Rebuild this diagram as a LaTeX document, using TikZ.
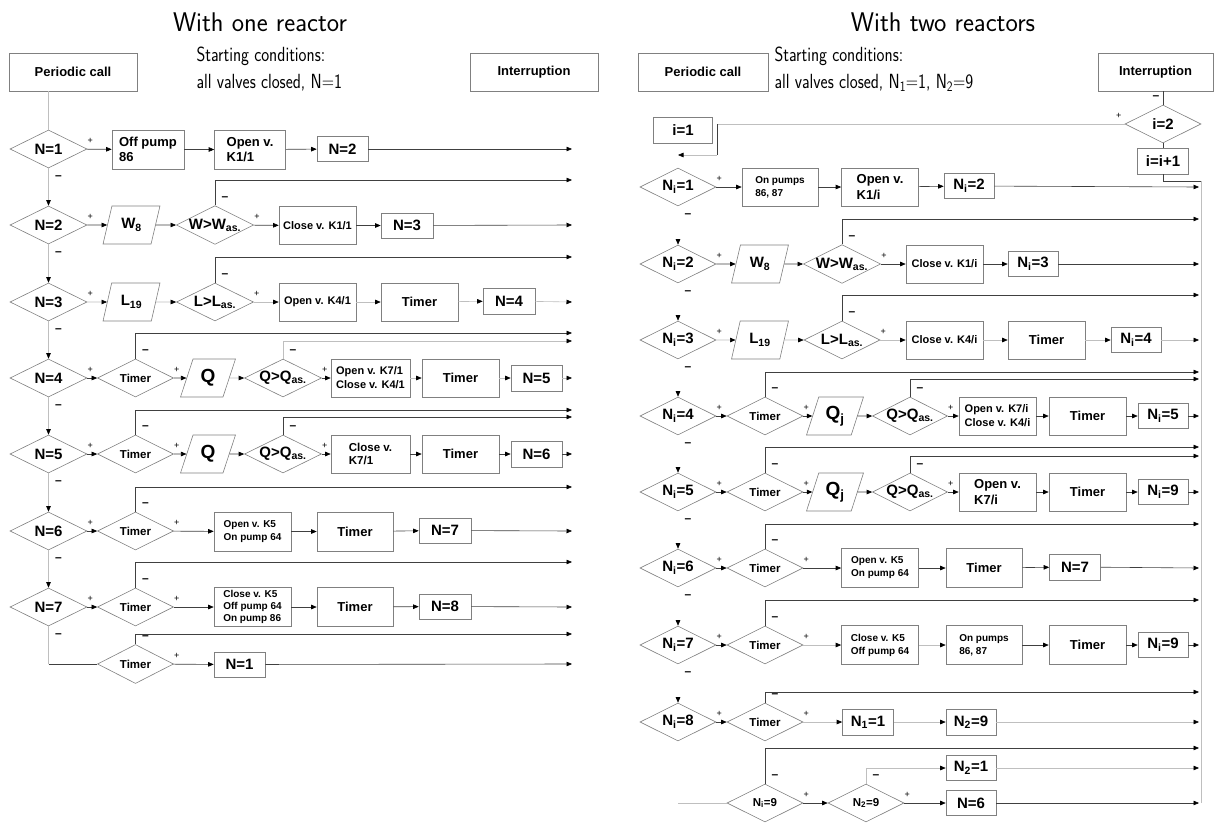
\documentclass[tikz,border=0pt]{standalone}
\usepackage{fontspec}
\setmainfont{Liberation Sans}
\usepackage{graphicx}
\usetikzlibrary{shapes.geometric,arrows.meta}
\newcommand\fA{\fontsize{15}{17}\selectfont\bfseries}
\newcommand\fB{\fontsize{13}{15.5}\selectfont\bfseries}
\newcommand\fC{\fontsize{11.5}{13}\selectfont\bfseries}
\newcommand\fD{\fontsize{11}{14}\selectfont\bfseries}
\newcommand\fE{\fontsize{10}{13}\selectfont\bfseries}
\newcommand\fF{\fontsize{10}{12}\selectfont\bfseries}
\newcommand\fQ{\fontsize{19}{21}\selectfont\bfseries}
\newcommand\fT{\fontsize{27}{29}\selectfont\sffamily}
\newcommand\fS{\fontsize{20.5}{22}\selectfont\sffamily}
\newcommand\sbs[1]{\textsubscript{#1}}
\newcommand\pls[2]{\node[pl] (#1) at ([xshift=3pt,yshift=8pt]#2.east) {+};}
\newcommand\mnb[2]{\node[mi] (#1) at ([xshift=10pt,yshift=-9pt]#2.south) {--};}
\newcommand\mnt[2]{\node[mi] (#1) at ([xshift=10pt,yshift=7pt]#2.north) {--};}
\tikzset{
  gl/.style={draw=black!50, line width=0.6pt},
  rbox/.style 2 args={rectangle, gl, fill=white, align=left, inner sep=1pt, minimum width=#1, minimum height=#2},
  dia/.style 2 args={diamond, gl, fill=white, aspect=2, inner sep=0pt, minimum width=#1, minimum height=#2},
  para/.style 2 args={trapezium, trapezium left angle=70, trapezium right angle=110, trapezium stretches=true, gl, fill=white, inner sep=0pt, minimum width=#1, minimum height=#2},
  ln/.style={draw=black!75, line width=0.6pt},
  fl/.style={draw=black!25, line width=0.6pt},
  inv/.style={draw=white, line width=0.6pt},
  ar/.style={-{Triangle[length=5.5pt,width=4.5pt,color=black]}},
  pl/.style={font=\fontsize{9}{9}\selectfont, inner sep=0pt},
  mi/.style={font=\fontsize{12}{12}\selectfont\bfseries, inner sep=0pt},
}
\begin{document}
\begin{tikzpicture}[x=1pt,y=-1pt]
\useasboundingbox (0,0) rectangle (1224,825);

%================ LEFT PANEL ================
\node[font=\fT] (aT) at (260,22) {\scalebox{0.97}[1]{With one reactor}};
\node[font=\fS, anchor=west] (aS1) at (193,56) {\scalebox{0.82}[1]{Starting conditions:}};
\node[font=\fS, anchor=west] (aS2) at (193,83) {\scalebox{0.82}[1]{all valves closed, N=1}};
\node[rbox={128}{38}, font=\fB] (aPC) at (73,72) {Periodic call};
\node[rbox={128}{38}, font=\fB] (aIR) at (534,72) {Interruption};

% row 1
\node[dia={77}{38}, font=\fA] (a1) at (48.5,149) {N=1};
\node[rbox={72}{39}, font=\fB] (a1b) at (148,149.5) {Off pump\\86};
\node[rbox={71}{39}, font=\fB] (a1c) at (250,149.5) {Open v.\\K1/1};
\node[rbox={51}{25}, font=\fA] (a1d) at (342.5,149) {N=2};
\coordinate (a1e) at (572,149);
\draw[fl] (aPC.south -| a1.north) -- (a1.north);
\draw[ln,ar] (a1) -- (a1b);
\draw[ln,ar] (a1b) -- (a1c);
\draw[ln,ar] (a1c) -- (a1d);
\draw[ln,ar] (a1d) -- (a1e);
\pls{a1p}{a1}
\mnb{a1m}{a1}

% row 2
\node[dia={77}{38}, font=\fA] (a2) at (48.5,225) {N=2};
\node[para={57}{38}, font=\fA] (a2b) at (131.5,225) {W\sbs{8}};
\node[dia={77}{38}, font=\fA] (a2c) at (215,225) {W>W\sbs{as.}};
\node[rbox={77}{38}, font=\fD] (a2d) at (317.5,225.5) {Close v. K1/1};
\node[rbox={52}{25}, font=\fA] (a2e) at (407,225.5) {N=3};
\coordinate (a2f) at (572,225);
\coordinate (a2g) at (572,180);
\draw[ln,ar] (a2) -- (a2b);
\draw[ln,ar] (a2b) -- (a2c);
\draw[ln,ar] (a2c) -- (a2d);
\draw[ln,ar] (a2d) -- (a2e);
\draw[ln,ar] (a2e) -- (a2f);
\draw[ln,ar] (a2c.north) |- (a2g);
\pls{a2p}{a2}
\pls{a2cp}{a2c}
\mnb{a2m}{a2}
\mnt{a2cm}{a2c}

% row 3
\node[dia={77}{38}, font=\fA] (a3) at (48.5,302) {N=3};
\node[para={57}{38}, font=\fA] (a3b) at (131.5,302) {L\sbs{19}};
\node[dia={77}{38}, font=\fA] (a3c) at (215,302) {L>L\sbs{as.}};
\node[rbox={77}{38}, font=\fD] (a3d) at (317.5,302) {Open v. K4/1};
\node[rbox={77}{38}, font=\fB] (a3e) at (419.5,302) {Timer};
\node[rbox={52}{26}, font=\fA] (a3f) at (509,301) {N=4};
\coordinate (a3g) at (572,302);
\coordinate (a3h) at (572,257);
\draw[fl,ar] (a3) -- (a3b);
\draw[fl,ar] (a3b) -- (a3c);
\draw[fl,ar] (a3c) -- (a3d);
\draw[fl,ar] (a3d) -- (a3e);
\draw[fl,ar] (a3e) -- (a3f);
\draw[fl,ar] (a3f) -- (a3g);
\draw[ln,ar] (a3c.north) |- (a3h);
\pls{a3p}{a3}
\pls{a3cp}{a3c}
\mnb{a3m}{a3}
\mnt{a3cm}{a3c}

% row 4
\node[dia={77}{38}, font=\fA] (a4) at (48.5,378) {N=4};
\node[dia={76}{38}, font=\fC] (a4b) at (135.5,378) {Timer};
\node[para={55}{38}, font=\fQ] (a4c) at (208,378) {Q};
\node[dia={77}{38}, font=\fA] (a4d) at (283,378) {Q>Q\sbs{as.}};
\node[rbox={79}{38}, font=\fD] (a4e) at (370.5,378) {Open v. K7/1\\Close v. K4/1};
\node[rbox={77}{38}, font=\fB] (a4f) at (460.5,378) {Timer};
\node[rbox={51}{26}, font=\fA] (a4g) at (536.5,378) {N=5};
\coordinate (a4h) at (572,378);
\coordinate (a4i) at (572,333);
\coordinate (a4j) at (572,341);
\draw[ln,ar] (a4) -- (a4b);
\draw[ln,ar] (a4b) -- (a4c);
\draw[fl,ar] (a4c) -- (a4d);
\draw[ln,ar] (a4d) -- (a4e);
\draw[fl,ar] (a4e) -- (a4f);
\draw[fl,ar] (a4f) -- (a4g);
\draw[fl,ar] (a4g) -- (a4h);
\draw[ln,ar] (a4b.north) |- (a4i);
\draw[fl,ar] (a4d.north) |- (a4j);
\pls{a4p}{a4}
\pls{a4bp}{a4b}
\pls{a4dp}{a4d}
\mnb{a4m}{a4}
\mnt{a4bm}{a4b}
\mnt{a4dm}{a4d}

% row 5
\node[dia={77}{38}, font=\fA] (a5) at (48.5,454) {N=5};
\node[dia={76}{38}, font=\fC] (a5b) at (135.5,454) {Timer};
\node[para={55}{38}, font=\fQ] (a5c) at (208,454) {Q};
\node[dia={77}{38}, font=\fA] (a5d) at (283,454) {Q>Q\sbs{as.}};
\node[rbox={79}{38}, font=\fC] (a5e) at (370.5,454) {Close v.\\K7/1};
\node[rbox={77}{38}, font=\fB] (a5f) at (460.5,454) {Timer};
\node[rbox={51}{26}, font=\fA] (a5g) at (536.5,454) {N=6};
\coordinate (a5h) at (572,454);
\coordinate (a5i) at (572,410);
\coordinate (a5j) at (572,417);
\draw[ln,ar] (a5) -- (a5b);
\draw[ln,ar] (a5b) -- (a5c);
\draw[ln,ar] (a5c) -- (a5d);
\draw[ln,ar] (a5d) -- (a5e);
\draw[ln,ar] (a5e) -- (a5f);
\draw[ln,ar] (a5f) -- (a5g);
\draw[ln,ar] (a5g) -- (a5h);
\draw[ln,ar] (a5b.north) |- (a5i);
\draw[ln,ar] (a5d.north) |- (a5j);
\pls{a5p}{a5}
\pls{a5bp}{a5b}
\pls{a5dp}{a5d}
\mnb{a5m}{a5}
\mnt{a5bm}{a5b}
\mnt{a5dm}{a5d}

% row 6
\node[dia={77}{38}, font=\fA] (a6) at (48.5,531) {N=6};
\node[dia={76}{38}, font=\fC] (a6b) at (135.5,531) {Timer};
\node[rbox={77}{39}, font=\fE] (a6c) at (252.5,531.5) {Open v. K5\\On pump 64};
\node[rbox={76}{39}, font=\fB] (a6d) at (355,531.5) {Timer};
\node[rbox={52}{25}, font=\fA] (a6e) at (445,530.5) {N=7};
\coordinate (a6f) at (572,531);
\coordinate (a6g) at (572,487);
\draw[ln,ar] (a6) -- (a6b);
\draw[ln,ar] (a6b) -- (a6c);
\draw[ln,ar] (a6c) -- (a6d);
\draw[ln,ar] (a6d) -- (a6e);
\draw[ln,ar] (a6e) -- (a6f);
\draw[ln,ar] (a6b.north) |- (a6g);
\pls{a6p}{a6}
\pls{a6bp}{a6b}
\mnb{a6m}{a6}
\mnt{a6bm}{a6b}

% row 7
\node[dia={77}{38}, font=\fA] (a7) at (48.5,607) {N=7};
\node[dia={76}{38}, font=\fC] (a7b) at (135.5,607) {Timer};
\node[rbox={77}{39}, font=\fF] (a7c) at (252.5,607) {Close v. K5\\Off pump 64\\On pump 86};
\node[rbox={76}{39}, font=\fB] (a7d) at (355,607) {Timer};
\node[rbox={52}{25}, font=\fA] (a7e) at (445,606.5) {N=8};
\coordinate (a7f) at (572,607);
\coordinate (a7g) at (572,562);
\draw[ln,ar] (a7) -- (a7b);
\draw[ln,ar] (a7b) -- (a7c);
\draw[ln,ar] (a7c) -- (a7d);
\draw[ln,ar] (a7d) -- (a7e);
\draw[ln,ar] (a7e) -- (a7f);
\draw[ln,ar] (a7b.north) |- (a7g);
\pls{a7p}{a7}
\pls{a7bp}{a7b}
\mnb{a7m}{a7}
\mnt{a7bm}{a7b}

% row 8
\node[dia={76}{39}, font=\fC] (a8) at (135.5,664) {Timer};
\node[rbox={51}{25}, font=\fA] (a8b) at (239.5,664.5) {N=1};
\coordinate (a8c) at (572,664);
\coordinate (a8d) at (572,634);
\coordinate (a7c0) at (48.5,664);
\draw[fl] (a7.south) -- (a7c0);
\draw[ln] (a7c0) -- (a8.west);
\draw[ln,ar] (a8) -- (a8b);
\draw[ln,ar] (a8b) -- (a8c);
\draw[ln,ar] (a8.north) |- (a8d);
\pls{a8p}{a8}
\mnt{a8m}{a8}

% vertical chain
\draw[fl,ar] (a1.south) -- (a2.north);
\draw[fl,ar] (a2.south) -- (a3.north);
\draw[fl,ar] (a3.south) -- (a4.north);
\draw[fl,ar] (a4.south) -- (a5.north);
\draw[fl,ar] (a5.south) -- (a6.north);
\draw[fl,ar] (a6.south) -- (a7.north);

%================ RIGHT PANEL ================
\node[font=\fT] (bT) at (943,22) {\scalebox{0.97}[1]{With two reactors}};
\node[font=\fS, anchor=west] (bS1) at (771,56) {\scalebox{0.82}[1]{Starting conditions:}};
\node[font=\fS, anchor=west] (bS2) at (771,83) {\scalebox{0.82}[1]{all valves closed, N\sbs{1}=1, N\sbs{2}=9}};
\node[rbox={130}{38}, font=\fB] (bPC) at (703,72) {Periodic call};
\node[rbox={115}{38}, font=\fB] (bIR) at (1155.5,72) {Interruption};
\node[dia={76}{38}, font=\fA] (bI2) at (1163,124) {i=2};
\node[rbox={51}{26}, font=\fA] (bI3) at (1163,161) {i=i+1};
\node[rbox={59}{26}, font=\fA] (bI1) at (683,130) {i=1};
\draw[ln] (bIR.south -| bI2.north) -- (bI2.north);
\node[mi] (bIm) at (1156,98) {--};
\draw[ln] (bI2) -- (bI3);
\node[pl] (bIp) at ([xshift=-6pt,yshift=8pt]bI2.west) {+};
\coordinate (bK1) at (717,124);
\coordinate (bK2) at (717,155);
\coordinate (bK3) at (678,155);
\draw[fl] (bI2.west) -- (bK1);
\draw[ln] (bK1) -- (bK2);
\draw[fl,ar] (bK2) -- (bK3);
\coordinate (bB0) at (1163,181);
\coordinate (bB1) at (1201,181);
\coordinate (bB2) at (1201,803);
\draw[ln] (bI3.south) -- (bB0) -- (bB1);
\draw[fl] (bB1) -- (bB2);

% row 1
\node[dia={76}{38}, font=\fA] (b1) at (678,187) {N\sbs{i}=1};
\node[rbox={76}{38}, font=\fE] (b1b) at (780,187) {On pumps\\86, 87};
\node[rbox={77}{38}, font=\fB] (b1c) at (880,187) {Open v.\\K1/i};
\node[rbox={50}{25}, font=\fA] (b1d) at (969,186) {N\sbs{i}=2};
\coordinate (b1e) at (1199,187);
\draw[ln,ar] (b1) -- (b1b);
\draw[ln,ar] (b1b) -- (b1c);
\draw[ln,ar] (b1c) -- (b1d);
\draw[ln,ar] (b1d) -- (b1e);
\pls{b1p}{b1}
\mnb{b1m}{b1}

% row 2
\node[dia={76}{38}, font=\fA] (b2) at (678,264) {N\sbs{i}=2};
\node[para={57}{38}, font=\fA] (b2b) at (760,264) {W\sbs{8}};
\node[dia={76}{38}, font=\fA] (b2c) at (842,264) {W>W\sbs{as.}};
\node[rbox={77}{38}, font=\fD] (b2d) at (944.5,264) {Close v. K1/i};
\node[rbox={50}{25}, font=\fA] (b2e) at (1033,264) {N\sbs{i}=3};
\coordinate (b2f) at (1199,264);
\coordinate (b2g) at (1199,219);
\draw[ln,ar] (b2) -- (b2b);
\draw[ln,ar] (b2b) -- (b2c);
\draw[ln,ar] (b2c) -- (b2d);
\draw[ln,ar] (b2d) -- (b2e);
\draw[ln,ar] (b2e) -- (b2f);
\draw[ln,ar] (b2c.north) |- (b2g);
\pls{b2p}{b2}
\pls{b2cp}{b2c}
\mnb{b2m}{b2}
\mnt{b2cm}{b2c}

% row 3
\node[dia={76}{38}, font=\fA] (b3) at (678,340) {N\sbs{i}=3};
\node[para={57}{38}, font=\fA] (b3b) at (760,340) {L\sbs{19}};
\node[dia={76}{38}, font=\fA] (b3c) at (842,340) {L>L\sbs{as.}};
\node[rbox={77}{38}, font=\fD] (b3d) at (944.5,340) {Close v. K4/i};
\node[rbox={77}{38}, font=\fB] (b3e) at (1046.5,340) {Timer};
\node[rbox={50}{25}, font=\fA] (b3f) at (1136,340) {N\sbs{i}=4};
\coordinate (b3g) at (1199,340);
\coordinate (b3h) at (1199,295);
\draw[fl,ar] (b3) -- (b3b);
\draw[fl,ar] (b3b) -- (b3c);
\draw[fl,ar] (b3c) -- (b3d);
\draw[fl,ar] (b3d) -- (b3e);
\draw[fl,ar] (b3e) -- (b3f);
\draw[fl,ar] (b3f) -- (b3g);
\draw[ln,ar] (b3c.north) |- (b3h);
\pls{b3p}{b3}
\pls{b3cp}{b3c}
\mnb{b3m}{b3}
\mnt{b3cm}{b3c}

% row 4
\node[dia={76}{38}, font=\fA] (b4) at (678,416) {N\sbs{i}=4};
\node[dia={76}{38}, font=\fC] (b4b) at (765,416) {Timer};
\node[para={57}{38}, font=\fQ] (b4c) at (835,416) {Q\sbs{j}};
\node[dia={75}{38}, font=\fA] (b4d) at (910,416) {Q>Q\sbs{as.}};
\node[rbox={77}{38}, font=\fD] (b4e) at (997.5,416) {Open v. K7/i\\Close v. K4/i};
\node[rbox={77}{38}, font=\fB] (b4f) at (1087.5,416) {Timer};
\node[rbox={50}{25}, font=\fA] (b4g) at (1163,416) {N\sbs{i}=5};
\coordinate (b4h) at (1199,416);
\coordinate (b4i) at (1199,372);
\coordinate (b4j) at (1199,379);
\draw[ln,ar] (b4) -- (b4b);
\draw[ln,ar] (b4b) -- (b4c);
\draw[ln,ar] (b4c) -- (b4d);
\draw[ln,ar] (b4d) -- (b4e);
\draw[ln,ar] (b4e) -- (b4f);
\draw[ln,ar] (b4f) -- (b4g);
\draw[ln,ar] (b4g) -- (b4h);
\draw[ln,ar] (b4b.north) |- (b4i);
\draw[ln,ar] (b4d.north) |- (b4j);
\pls{b4p}{b4}
\pls{b4bp}{b4b}
\pls{b4dp}{b4d}
\mnb{b4m}{b4}
\mnt{b4bm}{b4b}
\mnt{b4dm}{b4d}

% row 5
\node[dia={76}{38}, font=\fA] (b5) at (678,492) {N\sbs{i}=5};
\node[dia={76}{38}, font=\fC] (b5b) at (765,492) {Timer};
\node[para={57}{38}, font=\fQ] (b5c) at (835,492) {Q\sbs{j}};
\node[dia={75}{38}, font=\fA] (b5d) at (910,492) {Q>Q\sbs{as.}};
\node[rbox={77}{38}, font=\fB] (b5e) at (997.5,492) {Open v.\\K7/i};
\node[rbox={77}{38}, font=\fB] (b5f) at (1087.5,492) {Timer};
\node[rbox={50}{25}, font=\fA] (b5g) at (1163,492) {N\sbs{i}=9};
\coordinate (b5h) at (1199,492);
\coordinate (b5i) at (1199,447);
\coordinate (b5j) at (1199,456);
\draw[ln,ar] (b5) -- (b5b);
\draw[ln,ar] (b5b) -- (b5c);
\draw[ln,ar] (b5c) -- (b5d);
\draw[ln,ar] (b5d) -- (b5e);
\draw[ln,ar] (b5e) -- (b5f);
\draw[ln,ar] (b5f) -- (b5g);
\draw[ln,ar] (b5g) -- (b5h);
\draw[ln,ar] (b5b.north) |- (b5i);
\draw[ln,ar] (b5d.north) |- (b5j);
\pls{b5p}{b5}
\pls{b5bp}{b5b}
\pls{b5dp}{b5d}
\mnb{b5m}{b5}
\mnt{b5bm}{b5b}
\mnt{b5dm}{b5d}

% row 6
\node[dia={76}{38}, font=\fA] (b6) at (678,568) {N\sbs{i}=6};
\node[dia={76}{38}, font=\fC] (b6b) at (765,568) {Timer};
\node[rbox={77}{39}, font=\fE] (b6c) at (880,568) {Open v. K5\\On pump 64};
\node[rbox={76}{39}, font=\fB] (b6d) at (984,568) {Timer};
\node[rbox={51}{26}, font=\fA] (b6e) at (1075,567) {N=7};
\coordinate (b6f) at (1199,568);
\coordinate (b6g) at (1199,524);
\draw[ln,ar] (b6) -- (b6b);
\draw[ln,ar] (b6b) -- (b6c);
\draw[ln,ar] (b6c) -- (b6d);
\draw[ln,ar] (b6d) -- (b6e);
\draw[ln,ar] (b6e) -- (b6f);
\draw[ln,ar] (b6b.north) |- (b6g);
\pls{b6p}{b6}
\pls{b6bp}{b6b}
\mnb{b6m}{b6}
\mnt{b6bm}{b6b}

% row 7
\node[dia={76}{38}, font=\fA] (b7) at (678,645) {N\sbs{i}=7};
\node[dia={76}{38}, font=\fC] (b7b) at (765,645) {Timer};
\node[rbox={77}{39}, font=\fE] (b7c) at (880,645) {Close v. K5\\Off pump 64};
\node[rbox={76}{39}, font=\fE] (b7d) at (984,645) {On pumps\\86, 87};
\node[rbox={77}{39}, font=\fB] (b7e) at (1087.5,645) {Timer};
\node[rbox={50}{25}, font=\fA] (b7f) at (1163,645) {N\sbs{i}=9};
\coordinate (b7g) at (1199,645);
\coordinate (b7h) at (1199,600);
\draw[ln,ar] (b7) -- (b7b);
\draw[fl,ar] (b7b) -- (b7c);
\draw[fl,ar] (b7c) -- (b7d);
\draw[ln,ar] (b7d) -- (b7e);
\draw[ln,ar] (b7e) -- (b7f);
\draw[ln,ar] (b7f) -- (b7g);
\draw[ln,ar] (b7b.north) |- (b7h);
\pls{b7p}{b7}
\pls{b7bp}{b7b}
\mnb{b7m}{b7}
\mnt{b7bm}{b7b}

% row 8
\node[dia={76}{38}, font=\fA] (b8) at (678,722) {N\sbs{i}=8};
\node[dia={76}{38}, font=\fC] (b8b) at (765,722) {Timer};
\node[rbox={51}{26}, font=\fA] (b8c) at (868,722) {N\sbs{1}=1};
\node[rbox={50}{26}, font=\fA] (b8d) at (971,722) {N\sbs{2}=9};
\coordinate (b8e) at (1199,722);
\coordinate (b8f) at (1199,692);
\draw[ln,ar] (b8) -- (b8b);
\draw[fl,ar] (b8b) -- (b8c);
\draw[fl,ar] (b8c) -- (b8d);
\draw[fl,ar] (b8d) -- (b8e);
\draw[ln,ar] (b8b.north) |- (b8f);
\pls{b8p}{b8}
\pls{b8bp}{b8b}
\mnt{b8bm}{b8b}

% row 9
\coordinate (b9a) at (678,803);
\node[dia={76}{38}, font=\fC] (b9) at (765,803) {N\sbs{i}=9};
\node[dia={76}{38}, font=\fC] (b9b) at (866,803) {N\sbs{2}=9};
\node[rbox={50}{25}, font=\fA] (b9c) at (971,803) {N=6};
\node[rbox={50}{25}, font=\fA] (b9f) at (971,768) {N\sbs{2}=1};
\coordinate (b9d) at (1199,803);
\coordinate (b9e) at (1199,748);
\coordinate (b9g) at (1199,768);
\draw[fl] (b9a) -- (b9);
\draw[ln,ar] (b9) -- (b9b);
\draw[ln,ar] (b9b) -- (b9c);
\draw[ln,ar] (b9c) -- (b9d);
\draw[ln,ar] (b9.north) |- (b9e);
\draw[fl,ar] (b9b.north) |- (b9f);
\draw[fl,ar] (b9f) -- (b9g);
\pls{b9p}{b9}
\pls{b9bp}{b9b}
\mnt{b9m}{b9}
\mnt{b9bm}{b9b}

% vertical arrows (lines not shown)
\draw[inv,ar] (b1.south) -- (b2.north);
\draw[inv,ar] (b2.south) -- (b3.north);
\draw[inv,ar] (b3.south) -- (b4.north);
\draw[inv,ar] (b4.south) -- (b5.north);
\draw[inv,ar] (b5.south) -- (b6.north);
\draw[inv,ar] (b6.south) -- (b7.north);
\draw[inv,ar] (b7.south) -- (b8.north);
\end{tikzpicture}
\end{document}
